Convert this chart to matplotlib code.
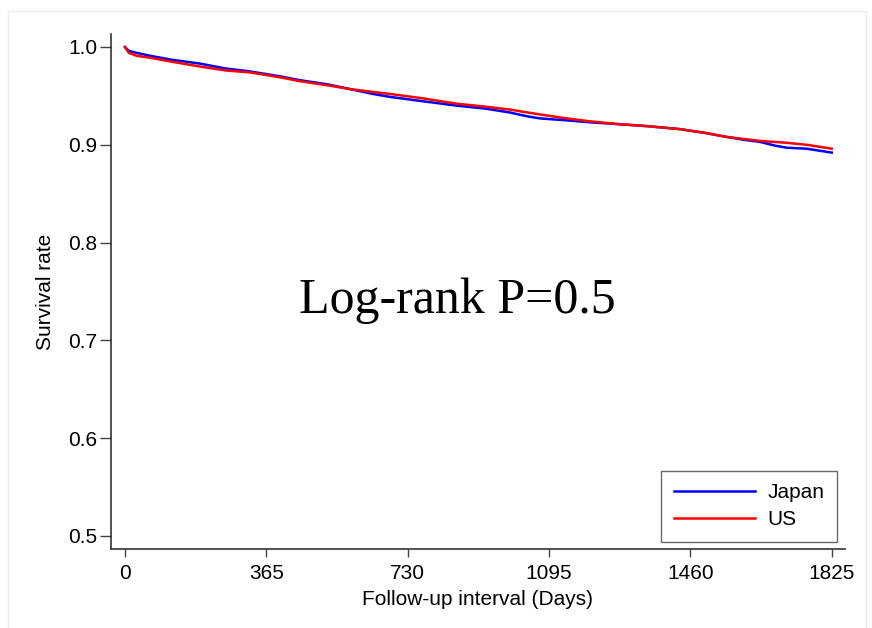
import matplotlib
matplotlib.use('Agg')
import matplotlib.pyplot as plt
from matplotlib.patches import Rectangle

# Kaplan-Meier curves
japan_days = [0, 10, 30, 65, 120, 194, 260, 323, 400, 452, 520, 581, 640, 684,
              760, 857, 930, 994, 1040, 1071, 1140, 1200, 1278, 1350, 1433,
              1500, 1554, 1600, 1639, 1680, 1709, 1760, 1825]
japan_surv = [1.000, 0.996, 0.994, 0.991, 0.987, 0.983, 0.978, 0.975, 0.970,
              0.966, 0.962, 0.957, 0.952, 0.949, 0.945, 0.940, 0.937, 0.933,
              0.929, 0.927, 0.925, 0.923, 0.921, 0.919, 0.916, 0.912, 0.908,
              0.905, 0.903, 0.899, 0.897, 0.896, 0.892]

us_days = [0, 10, 30, 65, 120, 194, 260, 323, 400, 452, 520, 581, 640, 684,
           760, 857, 930, 994, 1071, 1140, 1200, 1278, 1350, 1433, 1500, 1554,
           1639, 1709, 1760, 1825]
us_surv = [1.000, 0.994, 0.991, 0.989, 0.985, 0.980, 0.976, 0.974, 0.969,
           0.965, 0.961, 0.957, 0.954, 0.952, 0.948, 0.942, 0.939, 0.936,
           0.931, 0.927, 0.924, 0.921, 0.919, 0.916, 0.912, 0.908, 0.904,
           0.902, 0.900, 0.896]

x_ticks = [0, 365, 730, 1095, 1460, 1825]
y_ticks = [0.5, 0.6, 0.7, 0.8, 0.9, 1.0]

plt.rcParams['font.family'] = ['Liberation Sans', 'DejaVu Sans']

fig = plt.figure(figsize=(8.72, 6.28), dpi=100)
# faint outer frame
fig.patches.append(Rectangle((8 / 872, -0.01), 858 / 872, 1 - 11 / 628 + 0.01,
                             transform=fig.transFigure, fill=False,
                             edgecolor='#e6ecee', lw=1))

ax = fig.add_axes([0.1273, 0.1258, 0.8417, 0.8201])
ax.plot(japan_days, japan_surv, color='#0000ff', lw=1.8, label='Japan')
ax.plot(us_days, us_surv, color='#ff0000', lw=1.8, label='US')

ax.set_xlim(-36, 1859)
ax.set_ylim(0.4867, 1.0133)
ax.set_xticks(x_ticks)
ax.set_yticks(y_ticks)
ax.set_yticklabels(['%.1f' % v for v in y_ticks])
ax.tick_params(direction='out', width=1, color='#444444', labelsize=15)
ax.tick_params(axis='x', length=6, pad=5)
ax.tick_params(axis='y', length=8, pad=2)

for s in ['top', 'right']:
    ax.spines[s].set_visible(False)
for s in ['left', 'bottom']:
    ax.spines[s].set_color('#333333')
    ax.spines[s].set_linewidth(1.2)

ax.set_xlabel('Follow-up interval (Days)', fontsize=15, labelpad=5)
ax.set_ylabel('Survival rate', fontsize=15, labelpad=9)

ax.text(0.472, 0.482, 'Log-rank P=0.5', transform=ax.transAxes,
        fontsize=36, family=['Liberation Serif', 'DejaVu Serif'],
        ha='center', va='center')

leg = ax.legend(loc='lower right', fontsize=15, handlelength=3.9,
                handletextpad=0.6, frameon=True, fancybox=False,
                borderpad=0.6, labelspacing=0.4, borderaxespad=0,
                bbox_to_anchor=(0.989, 0.0136))
leg.get_frame().set_edgecolor('#444444')
leg.get_frame().set_linewidth(1)

fig.savefig('out.png', dpi=100)
